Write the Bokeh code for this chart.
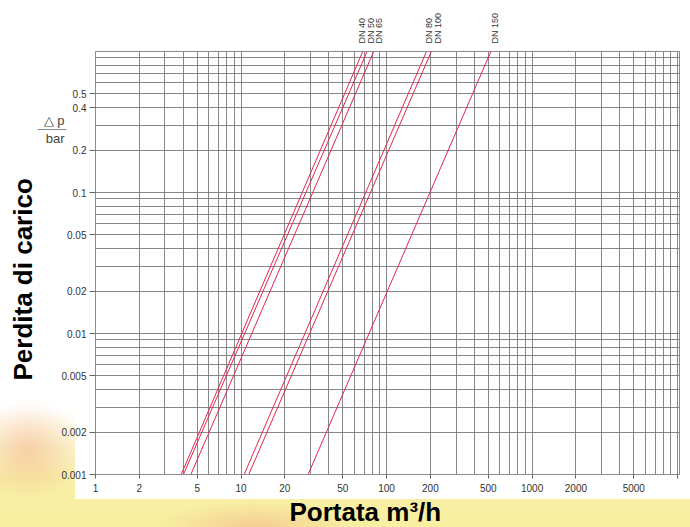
from bokeh.plotting import figure
from bokeh.models import FixedTicker, ColumnDataSource, Range1d, LogAxis, Title
from bokeh.embed import file_html
from bokeh.resources import INLINE

# ---- data ----
series = ["DN 40", "DN 50", "DN 65", "DN 80", "DN 100", "DN 150"]
q_at_dp_min = [3.88, 4.02, 4.52, 10.5, 11.3, 28.9]      # m3/h where dp = 0.001 bar
q_at_dp_max = [68.6, 73.5, 81.6, 188.0, 203.0, 521.0]   # m3/h where dp = 1 bar
dp_min = 0.001
dp_max = 1.0

# where the DN names are printed along the top edge (m3/h)
series_label_q = [68.3, 78.1, 89.4, 197.0, 224.0, 553.0]

x_ticks = [1, 2, 5, 10, 20, 50, 100, 200, 500, 1000, 2000, 5000, 10000]
x_tick_labels = ["1", "2", "5", "10", "20", "50", "100", "200", "500", "1000", "2000", "5000", ""]
y_ticks = [0.001, 0.002, 0.005, 0.01, 0.02, 0.05, 0.1, 0.2, 0.4, 0.5]
y_tick_labels = ["0.001", "0.002", "0.005", "0.01", "0.02", "0.05", "0.1", "0.2", "0.4", "0.5"]

# unit label "△ p / bar" printed beside the y axis (bar)
unit_label_y = [0.2788]
unit_labels = ["△ p\nbar"]

FONT = "Liberation Sans"
RED = "#e3264f"
GRID = "#7a7a7a"

p = figure(width=690, height=527, x_axis_type="log", y_axis_type="log",
           x_range=Range1d(1, 10300), y_range=Range1d(dp_min, dp_max),
           output_backend="svg", toolbar_location=None,
           min_border_left=95, min_border_right=11, min_border_top=51, min_border_bottom=53)

p.border_fill_color = None
p.background_fill_color = "white"
p.outline_line_color = "#8c8c8c"
p.styles = {
    "background": (
        "linear-gradient(#ffffff,#ffffff) 75px 0px / 615px 499px no-repeat, "
        "radial-gradient(ellipse 55px 50px at 28px 450px, rgba(242,170,125,0.5), rgba(255,255,255,0) 100%), "
        "radial-gradient(ellipse 100px 26px at 255px 527px, rgba(240,170,130,0.5), rgba(255,255,255,0) 100%), "
        "linear-gradient(to bottom, #ffffff 0px, #ffffff 410px, #f8eea6 480px, #f8f0a0 100%)"
    )
}

# grid at every 1..9 of each decade
grid_x = [m * 10 ** e for e in range(0, 4) for m in range(1, 10)] + [10000]
grid_y = [m * 10.0 ** e for e in range(-3, 0) for m in range(1, 10)] + [1.0]
p.xgrid.ticker = FixedTicker(ticks=grid_x)
p.ygrid.ticker = FixedTicker(ticks=grid_y)
for g in (p.xgrid, p.ygrid):
    g.grid_line_color = GRID
    g.grid_line_width = 1
    g.grid_line_alpha = 0.9
    g.minor_grid_line_color = None

xa = p.xaxis[0]
xa.ticker = FixedTicker(ticks=x_ticks, minor_ticks=[])
xa.major_label_overrides = {t: l for t, l in zip(x_ticks, x_tick_labels)}
ya = p.yaxis[0]
ya.ticker = FixedTicker(ticks=y_ticks, minor_ticks=[])
ya.major_label_overrides = {t: l for t, l in zip(y_ticks, y_tick_labels)}
for ax in (xa, ya):
    ax.axis_line_color = "#8c8c8c"
    ax.major_tick_line_color = "#666666"
    ax.minor_tick_line_color = None
    ax.major_tick_in = 0
    ax.major_label_text_font = FONT
    ax.major_label_text_font_size = "10px"
    ax.major_label_text_color = "#333333"
xa.major_tick_out = 4
xa.major_label_standoff = 5
ya.major_tick_out = 6
ya.major_label_standoff = 3

src = ColumnDataSource(dict(
    xs=[[a, b] for a, b in zip(q_at_dp_min, q_at_dp_max)],
    ys=[[dp_min, dp_max] for _ in series],
    name=series,
))
p.multi_line(xs="xs", ys="ys", source=src, line_color=RED, line_width=1)

# DN names along the top (as an extra axis above the frame)
top_ax = LogAxis(ticker=FixedTicker(ticks=series_label_q, minor_ticks=[]),
                 major_label_overrides={q: n for q, n in zip(series_label_q, series)},
                 major_label_orientation="vertical",
                 axis_line_color=None, major_tick_line_color=None, minor_tick_line_color=None,
                 major_tick_in=0, major_tick_out=0, major_label_standoff=8,
                 major_label_text_font=FONT, major_label_text_font_size="9px",
                 major_label_text_color="#333333")
p.add_layout(top_ax, "above")

# unit label "△p / bar" (extra axis at the left; its tick is the fraction bar)
unit_ax = LogAxis(ticker=FixedTicker(ticks=unit_label_y, minor_ticks=[]),
                  major_label_overrides={v: t for v, t in zip(unit_label_y, unit_labels)},
                  axis_line_color=None, major_tick_line_color="#8a8a8a", major_tick_line_width=1,
                  minor_tick_line_color=None,
                  major_tick_in=8, major_tick_out=21, major_label_standoff=-27,
                  major_label_text_font=FONT, major_label_text_font_size="13px",
                  major_label_text_color="#444444", major_label_text_align="right")
p.add_layout(unit_ax, "left")

# axis titles
p.add_layout(Title(text="Perdita di carico", align="left", offset=94, standoff=5,
                   text_font=FONT, text_font_style="bold", text_font_size="26px",
                   text_color="#000000"), "left")
p.add_layout(Title(text="Portata m³/h", align="left", offset=194, standoff=0,
                   text_font=FONT, text_font_style="bold", text_font_size="26px",
                   text_color="#000000"), "below")

open("out.html", "w").write(file_html(p, INLINE))
